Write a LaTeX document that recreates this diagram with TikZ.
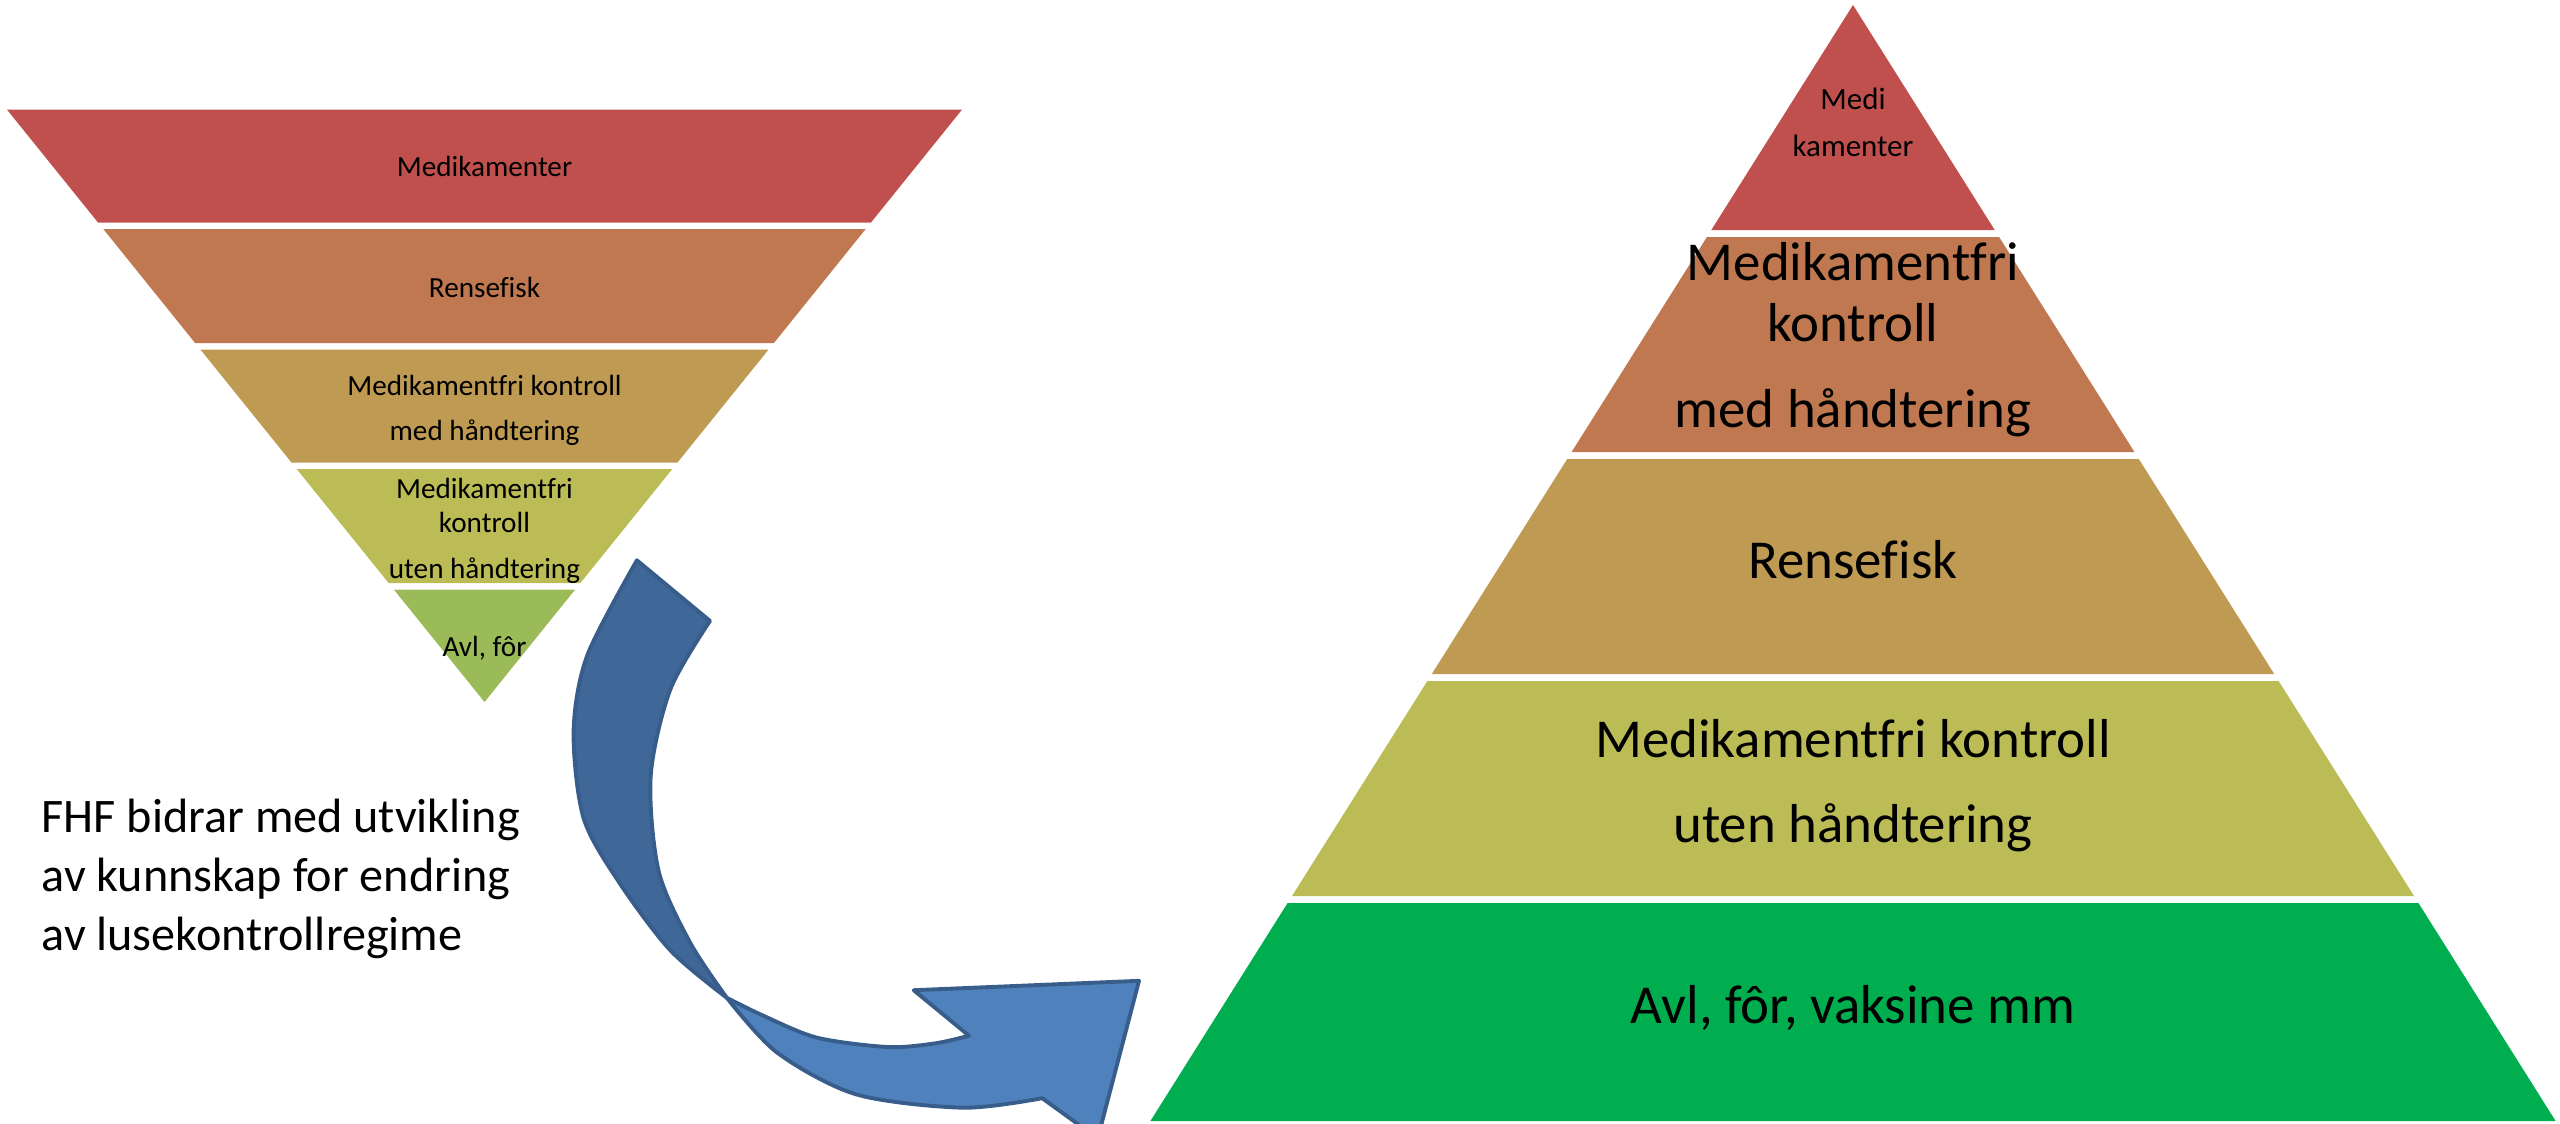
\documentclass[tikz,border=0pt]{standalone}
\usepackage{fontspec}
\setmainfont{Carlito}[Ligatures={NoCommon}]
\definecolor{cRed}{HTML}{C0504D}
\definecolor{cOrange}{HTML}{BF784F}
\definecolor{cTan}{HTML}{BE9A52}
\definecolor{cOlive}{HTML}{BBBC56}
\definecolor{cLgreen}{HTML}{9BBB59}
\definecolor{cGreen}{HTML}{00AE50}
\definecolor{arrDark}{HTML}{3F6797}
\definecolor{arrLight}{HTML}{4F81BD}
\definecolor{arrLine}{HTML}{385D8A}
\begin{document}
\begin{tikzpicture}[x=0.01cm,y=-0.01cm,
  lbl/.style={inner sep=0pt, text height=0.64em, text depth=0pt},
  smalltxt/.style={lbl, font=\fontsize{8.3}{10}\selectfont},
  tiptxt/.style={lbl, font=\fontsize{8.8}{10.5}\selectfont},
  bigtxt/.style={lbl, font=\fontsize{15.6}{19}\selectfont},
  fhftxt/.style={lbl, anchor=west, font=\fontsize{13.7}{16.8}\selectfont},
  arrowpart/.style={draw=arrLine, line width=1.1pt, line join=round}]
\useasboundingbox (0,0) rectangle (2560,1124);
\clip (0,0) rectangle (2560,1124);

% ---------- inverted pyramid (left) ----------
\fill[cRed]    (6.9,109.5) -- (962.1,109.5) -- (871,222.5) -- (98,222.5) -- cycle;
\fill[cOrange] (103.3,229) -- (865.7,229) -- (773.9,343) -- (195.1,343) -- cycle;
\fill[cTan]    (200.4,349.5) -- (768.6,349.5) -- (677.5,462.5) -- (291.5,462.5) -- cycle;
\fill[cOlive]  (296.7,469) -- (672.3,469) -- (580.4,583) -- (388.6,583) -- cycle;
\fill[cLgreen] (393.8,589.5) -- (575.2,589.5) -- (484.5,702) -- cycle;

\node[smalltxt] (l1)  at (484.5,165) {Medikamenter};
\node[smalltxt] (l2)  at (484.5,286) {Rensefisk};
\node[smalltxt] (l3a) at (484.5,384) {Medikamentfri kontroll};
\node[smalltxt] (l3b) at (484.5,429) {med håndtering};
\node[smalltxt] (l4a) at (484.5,487) {Medikamentfri};
\node[smalltxt] (l4b) at (484.5,521) {kontroll};
\node[smalltxt] (l4c) at (484.5,567) {uten håndtering};
\node[smalltxt] (l5)  at (484.5,645) {Avl, fôr};

% ---------- pyramid (right) ----------
\fill[cRed]    (1853,5) -- (1994.7,230) -- (1711.3,230) -- cycle;
\fill[cOrange] (1706.9,237) -- (1999.1,237) -- (2134.4,452) -- (1571.6,452) -- cycle;
\fill[cTan]    (1567.2,459) -- (2138.8,459) -- (2274.2,674) -- (1431.8,674) -- cycle;
\fill[cOlive]  (1427.4,681) -- (2278.6,681) -- (2414,896) -- (1292,896) -- cycle;
\fill[cGreen]  (1287.6,903) -- (2418.4,903) -- (2555.6,1121) -- (1150.4,1121) -- cycle;

\node[tiptxt] (r1a) at (1853,98)  {Medi};
\node[tiptxt] (r1b) at (1853,145) {kamenter};
\node[bigtxt] (r2a) at (1853,269) {Medikamentfri};
\node[bigtxt] (r2b) at (1853,330) {kontroll};
\node[bigtxt] (r2c) at (1853,416) {med håndtering};
\node[bigtxt] (r3)  at (1853,567) {Rensefisk};
\node[bigtxt] (r4a) at (1853,746) {Medikamentfri kontroll};
\node[bigtxt] (r4b) at (1853,831) {uten håndtering};
\node[bigtxt] (r5)  at (1853,1012) {Avl, fôr, vaksine mm};

% ---------- curved arrow ----------
\path[arrowpart, fill=arrLight]
  (726.8,997.8)
  -- plot[smooth] coordinates {(726.8,997.8) (761.4,1014.8) (816.8,1037.6) (888,1047) (935.4,1043.3) (969,1035.7)}
  -- (913.7,990.2) -- (1139,980.8) -- (1097.7,1138.4) -- (1042.2,1098.2)
  -- plot[smooth] coordinates {(1042.2,1098.2) (963.1,1107.7) (856.3,1094.4) (777.2,1052.7) (726.8,997.8)}
  -- cycle;
\path[arrowpart, fill=arrDark]
  (636.9,560.3)
  -- plot[smooth] coordinates {(636.9,560.3) (587.4,655) (573.6,730.8) (583.5,817.9) (619.1,882.3) (670.5,950.5) (726.8,997.8)}
  -- plot[smooth] coordinates {(726.8,997.8) (690.3,942.9) (658.6,870.9) (650.7,776.2) (670.5,689) (710,620.9)}
  -- cycle;

% ---------- text ----------
\node[fhftxt] (f1) at (41,821) {FHF bidrar med utvikling};
\node[fhftxt] (f2) at (41,880) {av kunnskap for endring};
\node[fhftxt] (f3) at (41,939) {av lusekontrollregime};
\end{tikzpicture}
\end{document}
